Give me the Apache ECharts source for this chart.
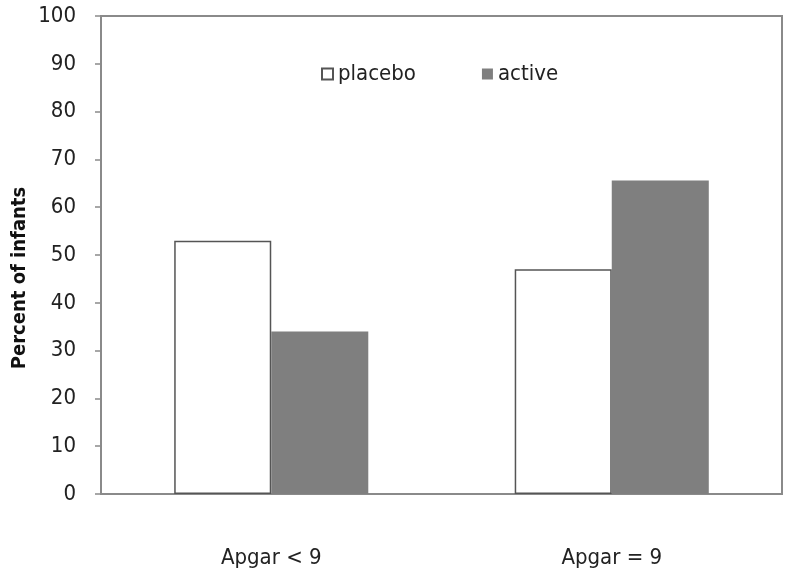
<!DOCTYPE html>
<html><head><meta charset="utf-8">
<script src="https://cdn.jsdelivr.net/npm/echarts@6/dist/echarts.min.js"></script>
<style>html,body{margin:0;padding:0;background:#fff}#c{width:800px;height:579px}</style>
</head><body><div id="c"></div>
<script>
var categories = ["Apgar < 9", "Apgar = 9"];
var placebo = [53, 47];
var active = [34, 65.6];
var yTicks = [0, 10, 20, 30, 40, 50, 60, 70, 80, 90, 100];
var yTitle = "Percent of infants";

var FONT = "'Liberation Sans Narrow', 'DejaVu Sans Condensed', 'Roboto Condensed', 'Liberation Sans', sans-serif";
var chart = echarts.init(document.getElementById('c'), null, {renderer: 'canvas'});
chart.setOption({
  animation: false,
  backgroundColor: '#fff',
  grid: {left: 101, right: 18, top: 16, bottom: 85, show: true, borderColor: '#8a8a8a', borderWidth: 2,
         backgroundColor: 'transparent', containLabel: false, outerBoundsMode: 'none'},
  legend: {
    left: 316, top: 58, itemWidth: 11, itemHeight: 11, itemGap: 66,
    textStyle: {fontFamily: FONT, fontSize: 22, color: '#222'},
    data: [{name: 'placebo', icon: 'rect'}, {name: 'active', icon: 'rect'}]
  },
  graphic: [{
    type: 'text', x: 20, y: 278, rotation: Math.PI / 2,
    style: {text: yTitle, fontFamily: FONT, fontSize: 20, fontWeight: 'bold', fill: '#111',
            align: 'center', verticalAlign: 'middle'}
  }],
  xAxis: {
    type: 'category', data: categories,
    axisLine: {lineStyle: {color: '#8a8a8a', width: 2}},
    axisTick: {show: false},
    axisLabel: {fontFamily: FONT, fontSize: 22, color: '#222', margin: 53}
  },
  yAxis: {
    type: 'value', min: yTicks[0], max: yTicks[yTicks.length - 1], interval: 10,
    axisLine: {show: true, lineStyle: {color: '#8a8a8a', width: 2}},
    axisTick: {show: true, length: 6, lineStyle: {color: '#8a8a8a', width: 1.5}},
    splitLine: {show: false},
    axisLabel: {fontFamily: FONT, fontSize: 22, color: '#222', margin: 25}
  },
  series: [
    {name: 'placebo', type: 'bar', data: placebo, barWidth: '28.5%', barGap: '0%',
     itemStyle: {color: '#ffffff', borderColor: '#555', borderWidth: 1.5}},
    {name: 'active', type: 'bar', data: active, barWidth: '28.5%',
     itemStyle: {color: '#7f7f7f', borderColor: '#7f7f7f', borderWidth: 0}}
  ]
});
</script></body></html>
